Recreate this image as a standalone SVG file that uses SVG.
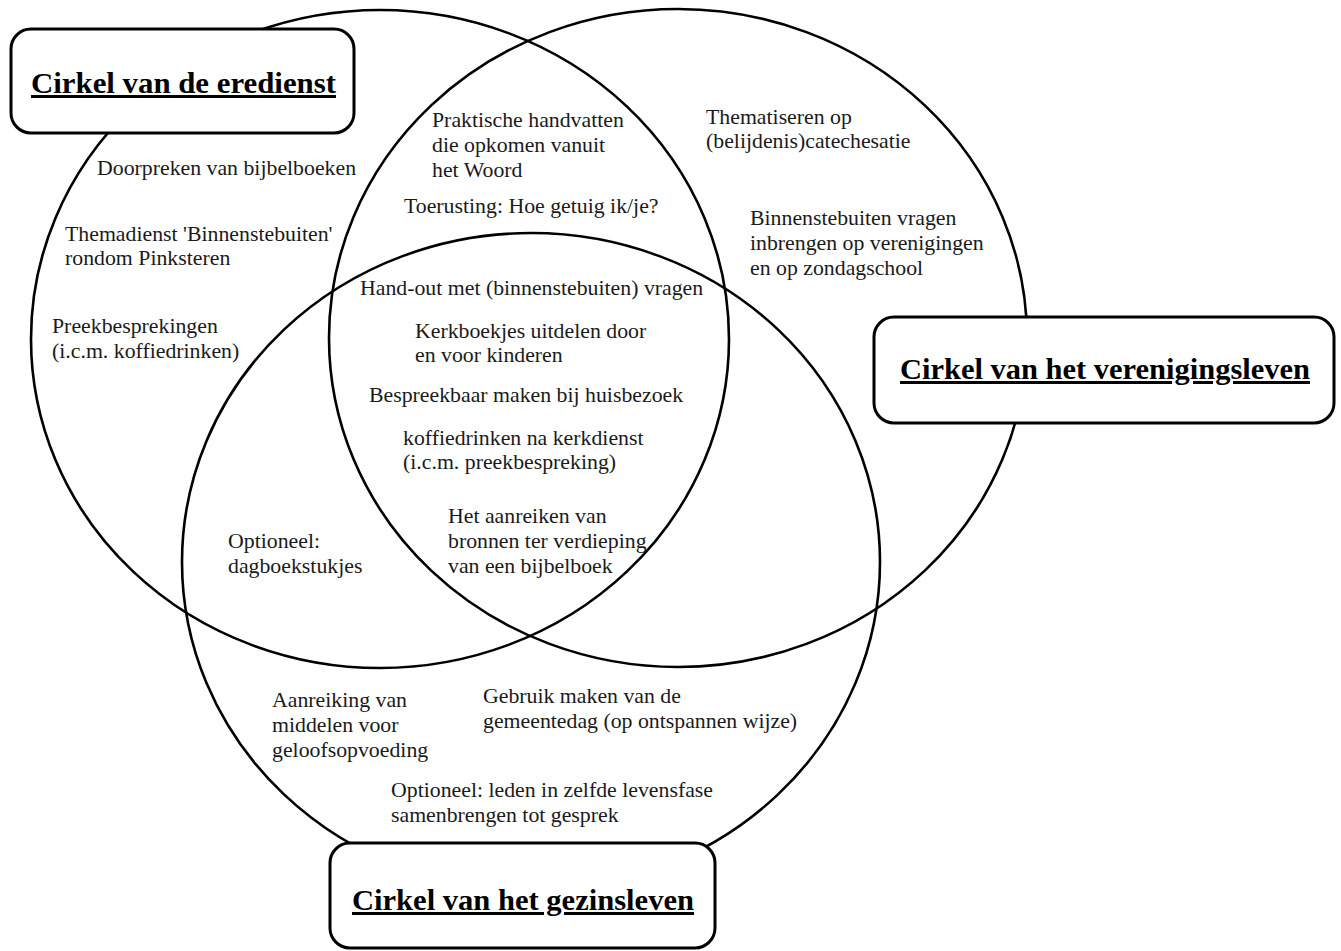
<svg xmlns="http://www.w3.org/2000/svg" width="1341" height="951" viewBox="0 0 1341 951">
<style>
.c{fill:none;stroke:#000;stroke-width:2.6}
.b{fill:#fff;stroke:#000;stroke-width:3}
.t{font-family:"Liberation Serif","Times New Roman",serif;font-size:21.8px;fill:#1a1a1a}
.h{font-family:"Liberation Serif","Times New Roman",serif;font-size:30px;font-weight:bold;fill:#000;text-decoration:underline}
</style>
<rect width="1341" height="951" fill="#fff"/>
<g id="circles">
<ellipse id="circle-eredienst" class="c" cx="380" cy="339" rx="349" ry="329"/>
<ellipse id="circle-vereniging" class="c" cx="678" cy="338" rx="349" ry="329"/>
<ellipse id="circle-gezin" class="c" cx="531" cy="562" rx="349" ry="329"/>
</g>
<g id="box-eredienst">
<rect class="b" x="11" y="29" width="343" height="104" rx="20"/>
<text class="h" x="31" y="93" textLength="305" lengthAdjust="spacingAndGlyphs">Cirkel van de eredienst</text>
</g>
<g id="box-vereniging">
<rect class="b" x="874" y="317" width="460" height="106" rx="20"/>
<text class="h" x="900" y="379" textLength="410" lengthAdjust="spacingAndGlyphs">Cirkel van het verenigingsleven</text>
</g>
<g id="box-gezin">
<rect class="b" x="330" y="843" width="385" height="105" rx="20"/>
<text class="h" x="352" y="910" textLength="342" lengthAdjust="spacingAndGlyphs">Cirkel van het gezinsleven</text>
</g>
<g id="labels" class="t">
<text x="97" y="175">Doorpreken van bijbelboeken</text>
<text x="65" y="241">Themadienst 'Binnenstebuiten'</text>
<text x="65" y="265">rondom Pinksteren</text>
<text x="52" y="333">Preekbesprekingen</text>
<text x="52" y="358">(i.c.m. koffiedrinken)</text>
<text x="432" y="127">Praktische handvatten</text>
<text x="432" y="152">die opkomen vanuit</text>
<text x="432" y="177">het Woord</text>
<text x="404" y="213">Toerusting: Hoe getuig ik/je?</text>
<text x="706" y="124">Thematiseren op</text>
<text x="706" y="148">(belijdenis)catechesatie</text>
<text x="750" y="225">Binnenstebuiten vragen</text>
<text x="750" y="250">inbrengen op verenigingen</text>
<text x="750" y="275">en op zondagschool</text>
<text x="360" y="295">Hand-out met (binnenstebuiten) vragen</text>
<text x="415" y="338">Kerkboekjes uitdelen door</text>
<text x="415" y="362">en voor kinderen</text>
<text x="369" y="402">Bespreekbaar maken bij huisbezoek</text>
<text x="403" y="445">koffiedrinken na kerkdienst</text>
<text x="403" y="469">(i.c.m. preekbespreking)</text>
<text x="448" y="523">Het aanreiken van</text>
<text x="448" y="548">bronnen ter verdieping</text>
<text x="448" y="573">van een bijbelboek</text>
<text x="228" y="548">Optioneel:</text>
<text x="228" y="573">dagboekstukjes</text>
<text x="272" y="707">Aanreiking van</text>
<text x="272" y="732">middelen voor</text>
<text x="272" y="757">geloofsopvoeding</text>
<text x="483" y="703">Gebruik maken van de</text>
<text x="483" y="728">gemeentedag (op ontspannen wijze)</text>
<text x="391" y="797">Optioneel: leden in zelfde levensfase</text>
<text x="391" y="822">samenbrengen tot gesprek</text>
</g>
</svg>
